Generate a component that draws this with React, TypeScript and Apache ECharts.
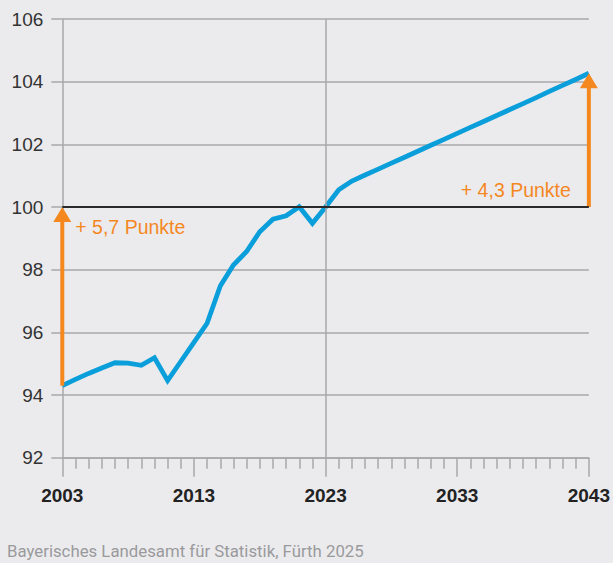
import React, { useEffect, useRef } from "react";
import * as echarts from "echarts";

const startYear = 2003;
const indexValues = [
  94.3, 94.5, 94.69, 94.86, 95.03, 95.02, 94.95, 95.19, 94.46, 95.07,
  95.68, 96.29, 97.48, 98.15, 98.58, 99.21, 99.61, 99.72, 100.01, 99.48,
  100.0, 100.55, 100.83, 101.02, 101.21, 101.4, 101.59, 101.78, 101.97, 102.16,
  102.35, 102.54, 102.73, 102.92, 103.11, 103.3, 103.49, 103.69, 103.88, 104.07,
  104.27,
];
const arrowYears = [2003, 2043];
const arrowFrom = [94.3, 100];
const arrowTo = [100, 104.27];
const arrowLabels = ["+ 5,7 Punkte", "+ 4,3 Punkte"];
const baseValue = 100;
const dividerYear = 2023;
const footer = "Bayerisches Landesamt für Statistik, Fürth 2025";

const BG = "#ebebee";
const GRID = "#a9a9ab";
const BLUE = "#0a9fdb";
const ORANGE = "#f5871f";
const FONT = "'Liberation Sans', Arial, sans-serif";

export default function App() {
  const ref = useRef<HTMLDivElement>(null);
  useEffect(() => {
    if (!ref.current) return;
    const chart = echarts.init(ref.current, undefined, { renderer: "svg" });
    const lineData = indexValues.map((v, i) => [startYear + i, v]);
    const arrowData = arrowYears.map((y, i) => [y, arrowFrom[i], arrowTo[i]]);
    chart.setOption({
      animation: false,
      backgroundColor: BG,
      textStyle: { fontFamily: FONT },
      grid: { left: 62.3, right: 24, top: 19, bottom: 105.3, containLabel: false },
      xAxis: {
        type: "value",
        min: 2003,
        max: 2043,
        interval: 10,
        axisLine: { show: true, lineStyle: { color: GRID, width: 1.5 } },
        axisTick: { show: true, length: 19, lineStyle: { color: GRID, width: 1.5 } },
        minorTick: { show: true, splitNumber: 10, length: 11, lineStyle: { color: GRID, width: 1.5 } },
        splitLine: { show: false },
        axisLabel: {
          formatter: (v: number) => String(v),
          fontSize: 19,
          fontWeight: "bold",
          color: "#222",
          margin: 28,
          fontFamily: FONT,
        },
      },
      yAxis: {
        type: "value",
        min: 92,
        max: 106,
        interval: 2,
        axisLine: { show: true, lineStyle: { color: GRID, width: 1.5 } },
        axisTick: { show: true, length: 11, lineStyle: { color: GRID, width: 1.5 } },
        splitLine: { show: true, lineStyle: { color: GRID, width: 1.5 } },
        axisLabel: { fontSize: 19, color: "#333", margin: 19, fontFamily: FONT },
      },
      graphic: [
        {
          type: "text",
          left: 7,
          top: 542,
          style: { text: footer, fontSize: 16.8, fill: "#9a9a9c", fontFamily: "Roboto, sans-serif" },
        },
      ],
      series: [
        {
          type: "line",
          data: [],
          z: 1,
          silent: true,
          markLine: {
            silent: true,
            symbol: ["none", "none"],
            label: { show: false },
            data: [
              [
                { coord: [dividerYear, 92], lineStyle: { color: GRID, width: 1.5, type: "solid" } },
                { coord: [dividerYear, 106] },
              ],
              [
                { coord: [2003, baseValue], lineStyle: { color: "#2a2a2a", width: 2, type: "solid" } },
                { coord: [2043, baseValue] },
              ],
            ],
          },
        },
        {
          type: "line",
          data: lineData,
          z: 3,
          symbol: "none",
          lineStyle: { color: BLUE, width: 4.8, join: "miter" },
        },
        {
          type: "custom",
          z: 4,
          data: arrowData,
          renderItem: (params: any, api: any) => {
            const x = api.value(0);
            const p0 = api.coord([x, api.value(1)]);
            const p1 = api.coord([x, api.value(2)]);
            const pb = api.coord([x, baseValue]);
            const headH = 15;
            const headW = 18;
            const i = params.dataIndex;
            const left = i === 0;
            return {
              type: "group",
              children: [
                {
                  type: "line",
                  shape: { x1: p0[0], y1: p0[1], x2: p1[0], y2: p1[1] + headH - 1 },
                  style: { stroke: ORANGE, lineWidth: 4 },
                },
                {
                  type: "polygon",
                  shape: {
                    points: [
                      [p1[0], p1[1]],
                      [p1[0] - headW / 2, p1[1] + headH],
                      [p1[0] + headW / 2, p1[1] + headH],
                    ],
                  },
                  style: { fill: ORANGE },
                },
                {
                  type: "text",
                  x: left ? pb[0] + 13 : pb[0] - 18,
                  y: left ? pb[1] + 20 : pb[1] - 17,
                  style: {
                    text: arrowLabels[i],
                    fill: ORANGE,
                    fontSize: 19.5,
                    fontFamily: FONT,
                    align: left ? "left" : "right",
                    verticalAlign: "middle",
                  },
                },
              ],
            };
          },
        },
      ],
    });
    return () => chart.dispose();
  }, []);
  return (
    <div
      ref={ref}
      style={{ position: "fixed", left: 0, top: 0, width: 613, height: 563, background: BG }}
    />
  );
}
